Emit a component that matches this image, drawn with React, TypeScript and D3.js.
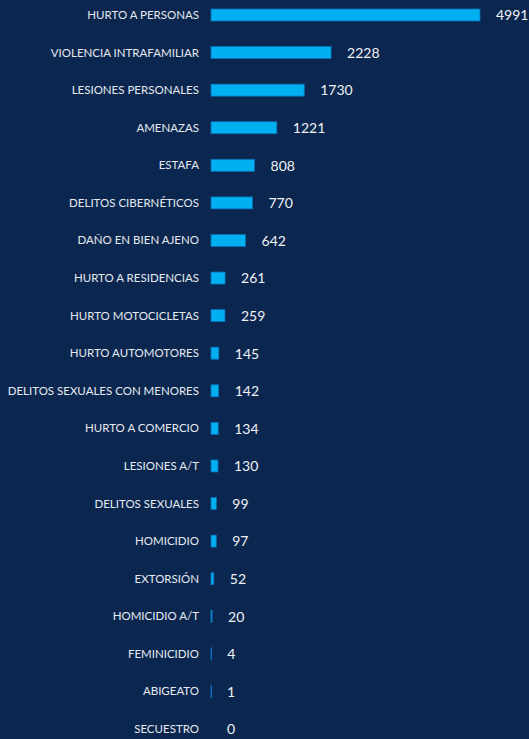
import React from "react";
import * as d3 from "d3";

const categories = [
  "HURTO A PERSONAS",
  "VIOLENCIA INTRAFAMILIAR",
  "LESIONES PERSONALES",
  "AMENAZAS",
  "ESTAFA",
  "DELITOS CIBERNÉTICOS",
  "DAÑO EN BIEN AJENO",
  "HURTO A RESIDENCIAS",
  "HURTO MOTOCICLETAS",
  "HURTO AUTOMOTORES",
  "DELITOS SEXUALES CON MENORES",
  "HURTO A COMERCIO",
  "LESIONES A/T",
  "DELITOS SEXUALES",
  "HOMICIDIO",
  "EXTORSIÓN",
  "HOMICIDIO A/T",
  "FEMINICIDIO",
  "ABIGEATO",
  "SECUESTRO",
];
const values = [4991, 2228, 1730, 1221, 808, 770, 642, 261, 259, 145, 142, 134, 130, 99, 97, 52, 20, 4, 1, 0];

const W = 529;
const H = 739;

export default function App() {
  const x = d3.scaleLinear().domain([0, 4991]).range([211, 480]);
  const y = d3.scaleBand().domain(categories).range([-3.8, 747.8]).paddingInner(0.68).paddingOuter(0.34);
  const bh = 12;
  return (
    <svg width={W} height={H} style={{ position: "absolute", left: 0, top: 0, display: "block" }}>
      <rect x={0} y={0} width={W} height={H} fill="#0b2750" />
      {categories.map((c, i) => {
        const cy = (y(c) as number) + y.bandwidth() / 2;
        const w = x(values[i]) - x(0);
        return (
          <g key={c}>
            <text x={199} y={cy} dy="0.35em" textAnchor="end" fill="#e6e9ef" fontFamily="Lato, 'Open Sans', sans-serif" fontSize={11.5}>
              {c}
            </text>
            {values[i] > 0 && (
              <rect x={x(0)} y={cy - bh / 2} width={Math.max(w, 0.6)} height={bh} fill="#00b0f0" stroke="#0a6fb5" strokeWidth={0.8} />
            )}
            <text x={x(values[i]) + 16} y={cy} dy="0.38em" fill="#f0f2f5" fontFamily="Lato, 'Open Sans', sans-serif" fontSize={14}>
              {values[i]}
            </text>
          </g>
        );
      })}
    </svg>
  );
}
